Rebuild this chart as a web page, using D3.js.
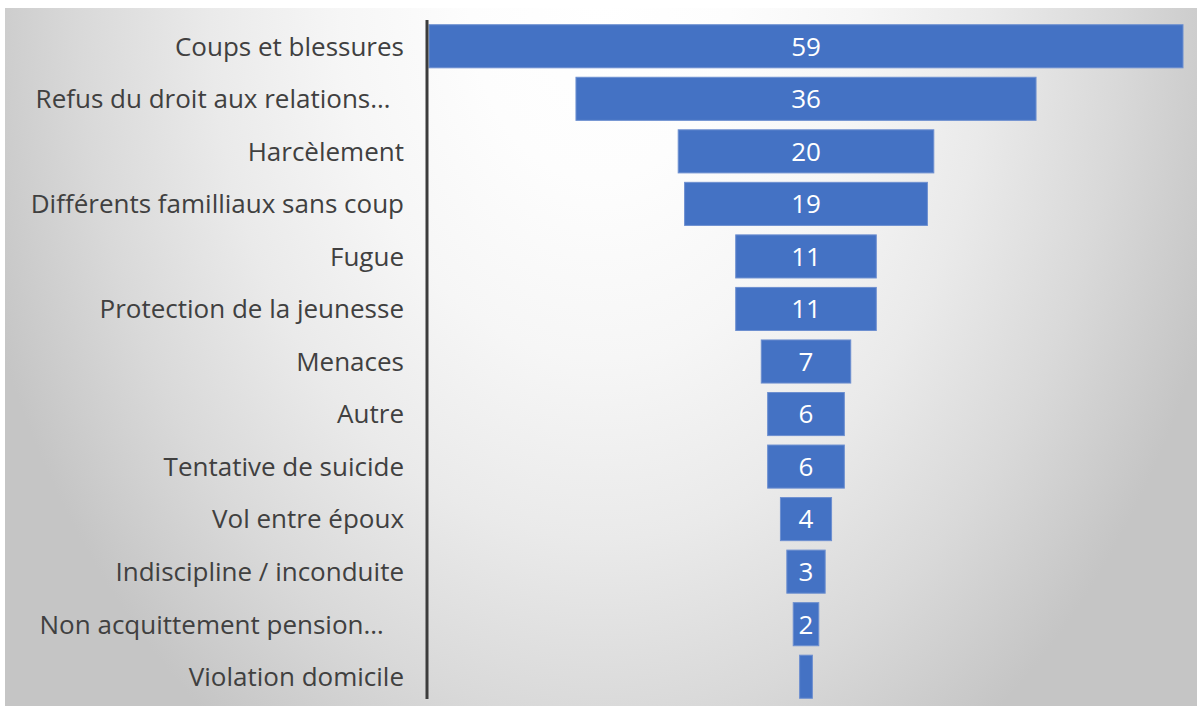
<!DOCTYPE html>
<html lang="fr">
<head>
<meta charset="utf-8">
<script src="https://cdn.jsdelivr.net/npm/d3@7/dist/d3.min.js"></script>
<style>
  html, body { margin: 0; padding: 0; background: #ffffff; }
  svg { display: block; }
</style>
</head>
<body>
<svg id="chart" width="1197" height="706"></svg>
<script>
// Categories, top to bottom of the funnel
const categories = [
  "Coups et blessures",
  "Refus du droit aux relations…\u00a0\u00a0",
  "Harcèlement",
  "Différents familliaux sans coup",
  "Fugue",
  "Protection de la jeunesse",
  "Menaces",
  "Autre",
  "Tentative de suicide",
  "Vol entre époux",
  "Indiscipline / inconduite",
  "Non acquittement pension…\u00a0\u00a0\u00a0",
  "Violation domicile"
];
// Number of cases per category
const counts = [59, 36, 20, 19, 11, 11, 7, 6, 6, 4, 3, 2, 1];
// Whether the count is printed inside the bar
const showLabel = [true, true, true, true, true, true, true, true, true, true, true, true, false];

const W = 1197, H = 706;
const FONT = "'Open Sans', Lato, sans-serif";
const svg = d3.select("#chart");

// Soft grey background, lightest near the top centre
const defs = svg.append("defs");
const grad = defs.append("radialGradient")
  .attr("id", "bg")
  .attr("gradientUnits", "userSpaceOnUse")
  .attr("cx", 600).attr("cy", 0).attr("r", 650)
  .attr("fx", 600).attr("fy", 0)
  .attr("gradientTransform", "translate(600,0) scale(1,1.38) translate(-600,0)");
[[0, 255], [0.2, 253], [0.4, 246], [0.6, 234], [0.8, 217], [1, 197]].forEach(([o, v]) => {
  grad.append("stop").attr("offset", o).attr("stop-color", d3.rgb(v, v, v));
});
svg.append("rect")
  .attr("x", 5).attr("y", 8).attr("width", W - 5).attr("height", H - 8)
  .attr("fill", "url(#bg)");

// Plot area
const plot = { left: 429, right: 1183, top: 20, bottom: 703 };
const maxV = d3.max(counts);

// Bars are centred on the middle of the plot area (funnel layout)
const x = d3.scaleLinear()
  .domain([-maxV / 2, maxV / 2])
  .range([plot.left, plot.right]);

const y = d3.scaleBand()
  .domain(categories)
  .range([plot.top, plot.bottom])
  .paddingInner(0.18)
  .paddingOuter(0.09);

const rows = categories.map((c, i) => ({ cat: c, v: counts[i], show: showLabel[i] }));

// Bars
svg.append("g").selectAll("rect")
  .data(rows)
  .join("rect")
  .attr("x", d => x(-d.v / 2))
  .attr("y", d => y(d.cat))
  .attr("width", d => x(d.v / 2) - x(-d.v / 2))
  .attr("height", y.bandwidth())
  .attr("fill", "#4472c4")
  .attr("stroke", "#6d8fd0")
  .attr("stroke-width", 1);

// Values inside the bars
svg.append("g").selectAll("text")
  .data(rows.filter(d => d.show))
  .join("text")
  .attr("x", x(0))
  .attr("y", d => y(d.cat) + y.bandwidth() / 2)
  .attr("dy", "0.36em")
  .attr("text-anchor", "middle")
  .attr("font-family", FONT)
  .attr("font-size", 26)
  .attr("fill", "#ffffff")
  .text(d => d.v);

// Category axis on the left
const axis = svg.append("g")
  .attr("transform", `translate(${plot.left - 2},0)`)
  .call(d3.axisLeft(y).tickSize(0).tickPadding(23));
axis.select(".domain")
  .attr("d", `M0,${plot.top}V699`)
  .attr("stroke", "#3c3c3c")
  .attr("stroke-width", 3);
axis.selectAll(".tick text")
  .attr("font-family", FONT)
  .attr("font-size", 26)
  .attr("fill", "#404040")
  .attr("dy", "0.36em");
</script>
</body>
</html>
